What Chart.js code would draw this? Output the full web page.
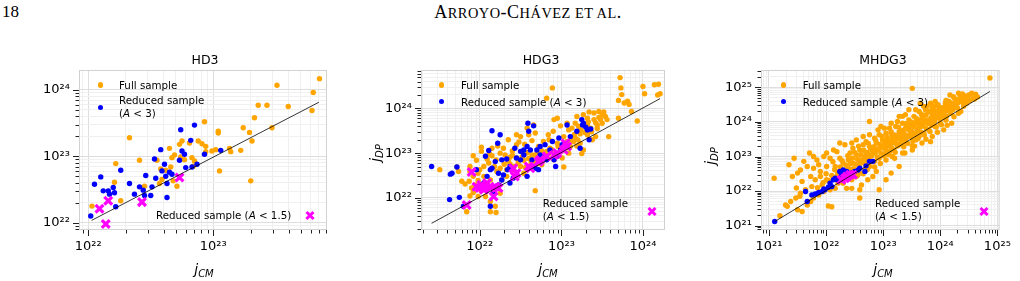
<!DOCTYPE html>
<html>
<head>
<meta charset="utf-8">
<script src="https://cdn.jsdelivr.net/npm/chart.js@4.4.0/dist/chart.umd.min.js"></script>
<style>
  body { margin: 0; background: #fff; }
  #page { position: relative; width: 1020px; height: 281px; overflow: hidden; font-family: 'DejaVu Sans', sans-serif; }
  canvas { position: absolute; left: 0; top: 0; }
  .t { position: absolute; font-size: 10.3px; line-height: 12px; white-space: nowrap; color: #000; }
  .title { position: absolute; font-size: 12.5px; line-height: 14px; transform: translate(-50%, -50%); white-space: nowrap; }
  .ax { position: absolute; font-size: 14px; line-height: 16px; white-space: nowrap; font-style: italic; }
  .ax .sub { font-size: 10px; position: relative; top: 3px; }
  .dot { position: absolute; width: 5.4px; height: 5.4px; border-radius: 50%; margin: -2.7px 0 0 -2.7px; }
  .xm { position: absolute; width: 0; height: 0; }
  .xm::before, .xm::after { content: ''; position: absolute; left: -5px; top: -1.6px; width: 10px; height: 3.2px; background: #ff00ff; }
  .xm::before { transform: rotate(45deg); }
  .xm::after { transform: rotate(-45deg); }
  .head { position: absolute; font-family: 'Liberation Serif', serif; color: #000; white-space: nowrap; }
  .sc { font-size: 0.8em; }
</style>
</head>
<body>
<div id="page">
  <div class="head" style="left:2px; top:2px; font-size:17px;">18</div>
  <div class="head" style="left:528px; top:2px; font-size:18px; letter-spacing:0.5px; transform: translateX(-50%);">A<span class="sc">RROYO</span>-C<span class="sc">HÁVEZ ET AL</span>.</div>

  <canvas id="hd3" width="1020" height="281"></canvas>
  <canvas id="hdg3" width="1020" height="281"></canvas>
  <canvas id="mhdg3" width="1020" height="281"></canvas>

  <!-- titles -->
  <div class="title" style="left:205px; top:60px;">HD3</div>
  <div class="title" style="left:541px; top:60px;">HDG3</div>
  <div class="title" style="left:883px; top:60px;">MHDG3</div>

  <!-- axis labels -->
  <div class="ax" style="left:204px; top:270px; transform: translate(-50%, -50%);">j<span class="sub">CM</span></div>
  <div class="ax" style="left:548px; top:270px; transform: translate(-50%, -50%);">j<span class="sub">CM</span></div>
  <div class="ax" style="left:883px; top:270px; transform: translate(-50%, -50%);">j<span class="sub">CM</span></div>
  <div class="ax" style="left:376px; top:153px; transform: translate(-50%, -50%) rotate(-90deg);">j<span class="sub">DP</span></div>
  <div class="ax" style="left:711px; top:156px; transform: translate(-50%, -50%) rotate(-90deg);">j<span class="sub">DP</span></div>

  <!-- legends HD3 -->
  <div class="dot" style="left:100.5px; top:85px; background:#ffa500;"></div>
  <div class="t" style="left:119px; top:79px;">Full sample</div>
  <div class="dot" style="left:100.5px; top:107.5px; background:#0000ff;"></div>
  <div class="t" style="left:119px; top:94px;">Reduced sample</div>
  <div class="t" style="left:119px; top:107px;">(<i>A</i> &lt; 3)</div>
  <div class="t" style="left:156px; top:209px;">Reduced sample (<i>A</i> &lt; 1.5)</div>
  <div class="xm" style="left:310px; top:215.5px;"></div>

  <!-- legends HDG3 -->
  <div class="dot" style="left:441.7px; top:85px; background:#ffa500;"></div>
  <div class="t" style="left:461px; top:79px;">Full sample</div>
  <div class="dot" style="left:441.7px; top:101.7px; background:#0000ff;"></div>
  <div class="t" style="left:461px; top:95.7px;">Reduced sample (<i>A</i> &lt; 3)</div>
  <div class="t" style="left:542.7px; top:197.3px;">Reduced sample</div>
  <div class="t" style="left:542.7px; top:209.7px;">(<i>A</i> &lt; 1.5)</div>
  <div class="xm" style="left:651.7px; top:211.7px;"></div>

  <!-- legends MHDG3 -->
  <div class="dot" style="left:783.7px; top:85px; background:#ffa500;"></div>
  <div class="t" style="left:802.7px; top:79px;">Full sample</div>
  <div class="dot" style="left:783.7px; top:101.7px; background:#0000ff;"></div>
  <div class="t" style="left:802.7px; top:95.7px;">Reduced sample (<i>A</i> &lt; 3)</div>
  <div class="t" style="left:875px; top:197.3px;">Reduced sample</div>
  <div class="t" style="left:875px; top:209.7px;">(<i>A</i> &lt; 1.5)</div>
  <div class="xm" style="left:983.7px; top:211.7px;"></div>
</div>

<script>
// all values are log10 of j, pairs of [log j_CM, log j_DP]

// HD3
const hd3Full = [[22.03,22.25],[22.22,22.89],[22.21,22.61],[22.26,22.33],[22.33,23.28],[22.41,22.94],[22.45,22.55],[22.55,22.94],[22.58,22.81],[22.59,22.65],[22.62,22.79],[22.65,23.12],[22.66,22.84],[22.68,22.63],[22.67,22.98],[22.69,23.02],[22.71,22.55],[22.73,23.18],[22.75,23.23],[22.74,22.99],[22.77,22.95],[22.81,23.20],[22.83,22.98],[22.85,22.93],[22.84,22.85],[22.88,23.23],[22.91,23.19],[22.93,23.52],[22.94,23.15],[22.94,23.07],[22.99,23.08],[23.02,23.10],[23.04,23.38],[23.04,23.35],[23.05,22.78],[23.13,23.12],[23.14,23.07],[23.22,23.09],[23.24,23.43],[23.29,23.36],[23.30,22.63],[23.31,23.23],[23.33,23.58],[23.36,23.77],[23.43,23.77],[23.47,23.43],[23.51,24.07],[23.60,23.75],[23.79,23.69],[23.80,23.96],[23.85,24.17],[22.57,22.59]];
const hd3Reduced = [[22.02,22.10],[22.05,22.58],[22.10,22.69],[22.12,22.48],[22.16,22.48],[22.17,22.43],[22.20,22.53],[22.21,22.45],[22.22,22.24],[22.26,22.79],[22.33,22.59],[22.37,22.43],[22.41,22.54],[22.44,22.49],[22.45,22.41],[22.46,22.71],[22.50,22.41],[22.51,22.54],[22.53,22.96],[22.54,22.67],[22.58,23.10],[22.59,22.78],[22.61,22.88],[22.62,22.70],[22.63,22.59],[22.63,22.38],[22.65,22.76],[22.67,22.73],[22.73,22.94],[22.74,23.40],[22.75,23.08],[22.77,23.03],[22.78,22.83],[22.82,23.24],[22.83,22.84],[22.85,23.47],[22.87,22.88],[22.93,23.03],[23.06,23.09]];
const hd3Low = [[22.09,22.21],[22.16,22.33],[22.14,21.98],[22.43,22.31],[22.73,22.68]];
const hd3Fit = [[22.027,22.035],[23.845,23.814]];
const hd3RangeX = [21.926, 23.91];
const hd3RangeY = [21.89, 24.30];

// HDG3
const hdg3Full = [[23.72,24.69],[23.73,24.46],[23.74,24.31],[23.70,24.18],[23.77,24.12],[23.81,24.16],[23.83,24.09],[23.93,23.72],[23.70,23.78],[23.86,23.93],[24.00,24.49],[24.02,24.33],[24.14,24.53],[24.19,24.54],[24.18,24.30],[24.21,24.33],[23.58,23.37],[22.89,24.46],[22.82,24.23],
  [23.27,23.86],[23.34,23.92],[23.40,23.90],[23.46,23.93],[23.52,23.92],[23.54,23.82],[23.50,23.67],[23.56,23.75],[23.40,23.75],[23.32,23.63],[23.19,23.82],[23.17,23.67],[23.07,23.67],[23.09,23.52],[22.99,23.61],[22.95,23.78],[22.91,23.75],[22.90,23.49],[23.03,23.37],[23.17,23.34],[23.23,23.43],[23.32,23.41],[23.38,23.30],[23.42,23.37],[23.11,23.15],[23.19,23.16],[23.15,23.26],[23.23,23.22],[23.27,23.07],[23.07,23.26],[22.99,23.11],[22.95,23.22],[22.86,23.11],[22.82,23.04],[22.93,23.00],
  [22.66,23.63],[22.68,23.45],[22.58,23.56],[22.60,23.41],[22.64,23.28],[22.50,23.37],[22.45,23.41],[22.35,23.30],[22.45,23.19],[22.29,23.11],[22.22,23.16],[22.15,23.11],[22.02,23.13],[22.02,23.04],[21.92,22.94],[21.96,22.84],[22.09,22.87],[22.11,22.78],[22.15,22.94],[22.25,23.00],[22.31,22.96],[22.37,22.91],[22.45,22.89],[22.54,22.84],[22.58,23.01],[22.70,23.00],[22.74,22.87],[22.82,22.91],[22.50,22.70],[22.41,22.63],[22.33,22.63],[22.25,22.66],[22.18,22.70],[21.88,22.70],[21.51,22.63],[21.72,22.69],[21.74,22.59],[21.88,22.59],[21.92,22.48],[21.87,22.37],[21.90,22.22],[21.94,22.29],[21.98,22.39],[22.05,22.48],[22.13,22.40],[22.21,22.59],[22.27,22.40],[22.33,22.48],[21.88,22.04],[21.92,22.12],[22.13,21.92],[21.84,21.69],[22.13,21.69],[22.20,21.67],[22.68,22.16],[23.03,22.69],[22.54,22.55],[22.62,22.70],[22.70,22.76],[22.76,22.74],[22.91,22.85],[23.25,22.99],[22.25,22.10],[22.09,22.29],[22.02,22.16],[21.98,22.03],[22.00,22.63],[22.37,22.76],[21.78,22.37],[21.82,22.31],[22.07,22.03],[22.19,21.81],
  [23.13,23.56],[23.21,23.60],[23.36,23.56],[23.44,23.63],[23.48,23.75],[23.32,23.78],[22.84,23.41],[22.78,23.26],[22.72,23.15],[22.64,22.96],[22.52,23.04],[23.01,22.89],[23.09,23.00],
  [22.30,22.75],[22.35,22.82],[22.40,22.95],[22.42,22.70],[22.47,22.78],[22.52,22.92],[22.56,22.68],[22.60,22.88],[22.63,22.78],[22.66,22.95],[22.68,22.82],[22.72,22.90],[22.76,23.05],[22.79,22.95],[22.84,22.98],[22.88,23.08],[22.92,22.95],[22.96,23.15],[23.00,23.05],[23.04,23.20],[23.08,23.12],[23.12,23.30],[23.16,23.42],[23.20,23.30],[23.24,23.52],[23.29,23.46],[23.33,23.70],[23.37,23.48],[23.42,23.68],[23.46,23.80],[23.50,23.85],[23.44,23.55],[22.55,23.20],[22.48,23.25],[22.40,23.05],[22.20,22.85],[22.12,22.98],[22.05,22.70],[21.98,22.55],[22.85,23.30]];
const hdg3Reduced = [[21.41,22.70],[21.64,22.53],[21.66,22.55],[21.72,22.69],[21.63,21.96],[21.75,22.01],[21.80,21.81],[22.13,21.81],[22.15,23.50],[22.25,23.41],[22.22,23.22],[22.11,23.06],[22.07,22.93],[22.13,22.63],[22.15,22.66],[22.23,22.55],[22.27,22.40],[22.29,22.51],[22.34,22.63],[22.37,22.70],[22.43,23.11],[22.50,23.04],[22.54,23.07],[22.58,23.15],[22.59,23.67],[22.60,23.49],[22.66,23.61],[22.62,23.07],[22.70,23.07],[22.74,23.15],[22.80,23.19],[22.86,23.07],[22.82,22.85],[22.93,22.70],[22.91,22.85],[22.50,22.85],[22.54,22.96],[22.64,22.85],[22.68,22.66],[22.58,22.48],[22.41,22.44],[22.37,22.33],[22.23,22.29],[22.17,22.14],[22.05,22.33],[22.09,22.48],[21.96,22.63],[22.76,22.93],[23.07,23.63],[23.25,23.75],[23.27,23.67],[23.32,23.52],[23.36,23.54],[23.34,23.30],[23.19,23.49],[23.11,23.37],[23.23,23.11],[22.74,22.96],[22.99,23.07],[23.01,23.19],[22.89,23.26],[22.97,23.34],[22.95,22.93],[22.19,22.81],[22.27,22.85],[22.45,22.89],[22.33,22.87],[22.66,22.70],[22.72,22.63],[22.11,22.22],[22.00,22.22],[23.26,23.63],[23.30,23.58]];
const hdg3Low = [[21.90,22.58],[21.84,21.84],[22.02,22.29],[22.07,22.25],[22.05,22.18],[22.00,22.22],[22.09,22.33],[22.19,22.25],[22.17,22.03],[22.23,22.22],[22.41,22.66],[22.43,22.48],[22.45,22.55],[22.60,22.70],[22.62,22.66],[22.72,22.81],[22.74,22.85],[22.82,22.93],[22.91,22.96],[22.95,23.00],[23.03,23.07],[23.05,23.22],[23.07,23.15],[21.96,22.25],[22.13,22.22]];
const hdg3Fit = [[21.41,21.43],[24.21,24.22]];
const hdg3RangeX = [21.28, 24.27];
const hdg3RangeY = [21.28, 24.86];

// MHDG3
const mhdg3Full = [[21.09,22.37],[21.19,21.29],[24.87,25.27],[23.51,24.97],[22.76,24.01],[23.83,23.43],[23.51,23.31],[21.71,23.10],[21.44,22.95],[21.61,22.86],[21.41,22.42],[22.04,21.57],[22.10,21.55],[22.59,21.80],[22.59,22.04],[22.93,22.04],[23.05,22.33],[21.29,21.60],[21.32,21.56],[21.38,21.70],[21.50,21.46],[21.58,21.41],[21.47,21.80],[21.55,21.94],[21.64,22.04],[21.58,22.28],[21.73,22.42],[21.81,22.33],[21.90,22.57],[22.01,22.71],[21.87,22.76],[21.78,22.66],
  [22.07,22.95],[22.19,23.14],[22.24,22.95],[22.30,22.81],[22.39,22.90],[22.42,23.10],[22.47,23.24],[22.53,23.05],[22.59,23.19],[22.65,23.34],[22.70,23.43],[22.76,23.29],[22.85,23.53],[22.88,23.39],[22.93,23.63],[22.99,23.48],[23.05,23.67],[23.11,23.82],[23.16,23.58],[23.22,23.87],[23.28,23.72],[23.34,23.96],[23.39,23.82],[23.45,24.06],[23.48,23.92],[23.54,24.16],[23.57,23.96],[23.63,24.30],[23.68,24.11],[23.74,24.35],[23.77,24.45],[23.83,24.54],[23.86,24.25],[23.91,24.59],[23.97,24.45],[24.03,24.30],[24.09,24.54],[24.11,24.16],[24.17,24.78],[24.23,24.73],[24.29,24.64],[24.32,24.83],[24.39,24.81],[24.43,24.75],[24.46,24.54],[24.55,24.83],[24.58,24.69],[24.60,24.66],
  [23.97,24.11],[24.00,23.96],[23.91,23.87],[23.80,23.77],[23.71,23.67],[23.63,23.58],[23.57,23.48],[23.48,23.58],[23.39,23.43],[23.28,23.34],[23.19,23.19],[23.11,23.14],[23.02,23.05],[22.93,22.95],[22.85,22.86],[22.76,22.71],[22.68,22.61],[22.59,22.52],[22.53,22.42],[22.45,22.33],[22.36,22.47],[22.30,22.23],[22.21,22.23],[22.16,22.08],[22.07,22.04],[21.96,21.99],[21.87,21.89],[21.78,21.80],[21.73,21.70],[21.67,21.60],[23.14,22.52],[23.28,22.71],[22.88,22.57],[22.73,22.33],[22.62,22.18],[22.45,22.08],[22.82,22.42],[22.36,22.08],[22.30,22.42],[22.19,22.42],[22.01,22.33],
  [23.16,23.00],[23.34,23.10],[23.51,23.19],[23.68,23.39],[23.86,23.58],[24.06,23.77],[24.20,23.96],[24.32,24.25],[24.41,24.45],[23.57,24.35],[23.45,24.35],[23.34,24.16],[23.25,24.01],[23.14,23.96],[23.02,23.82],[22.96,23.87],[22.91,23.77],[22.76,23.63],[22.65,23.58],[22.53,23.48],[22.45,23.39],[22.33,23.34],[22.24,23.39],[22.13,23.19],[22.01,23.10],[21.96,23.00],[21.84,22.90],[21.78,23.00],[21.67,22.71],[21.55,22.61],[21.50,22.52],[21.35,22.76],[21.48,22.09],[21.54,21.85],
  [23.63,24.01],[23.80,24.06],[23.88,24.11],[23.71,24.45],[23.65,24.54],[23.86,24.40],[24.06,24.35],[24.14,24.49],[23.39,24.21],[23.28,24.16],[23.14,23.67],[23.05,23.43],[22.88,23.19],[22.70,23.05],[22.59,22.90],[22.47,22.81],[22.39,22.66],[21.90,22.42],[22.27,22.61],[22.16,22.71],[21.93,22.18],[21.75,22.13],
  [22.20,22.55],[22.25,22.70],[22.28,22.88],[22.32,22.60],[22.35,22.75],[22.38,23.02],[22.40,22.55],[22.43,22.80],[22.46,22.95],[22.48,22.65],[22.50,23.12],[22.52,22.78],[22.55,22.92],[22.57,23.30],[22.58,22.70],[22.61,23.05],[22.63,22.85],[22.66,23.18],[22.67,22.98],[22.69,22.78],[22.72,23.12],[22.74,23.38],[22.75,22.92],[22.78,23.22],[22.80,23.02],[22.81,22.85],[22.84,23.28],[22.86,23.10],[22.87,23.46],[22.90,22.98],[22.92,23.22],[22.94,23.35],[22.96,23.10],[22.98,23.58],[23.00,23.25],[23.01,23.02],[23.03,23.40],[23.05,23.18],[23.07,23.55],[23.09,23.30],[23.10,23.05],[23.12,23.45],[23.14,23.72],[23.15,23.25],[23.18,23.40],[23.20,23.62],[23.21,23.12],[23.23,23.50],[23.25,23.30],[23.27,23.85],[23.29,23.62],[23.30,23.38],[23.32,23.75],[23.34,23.52],[23.36,23.28],[23.37,23.65],[23.40,23.95],[23.41,23.55],[23.43,23.38],[23.44,23.78],[23.46,23.62],[23.49,24.00],[23.50,23.72],[23.52,23.45],[23.54,23.85],[23.55,23.62],[23.58,24.10],[23.60,23.80],[23.61,23.52],[23.64,23.92],[23.66,23.70],[23.67,24.22],[23.70,23.88],[23.72,23.62],[23.73,24.05],[23.76,23.80],[23.78,24.28],[23.79,23.95],[23.82,23.72],[23.84,24.12],[23.85,23.90],[23.88,24.35],[23.90,24.02],[23.93,23.85],[23.95,24.22],[23.98,24.38],[24.00,24.10],[24.02,23.92],[24.05,24.42],[24.07,24.20],[24.10,24.05],[24.12,24.32],[24.15,24.60],[24.18,24.25],[24.21,24.45],[24.24,24.15],[24.26,24.55],[24.30,24.40],[24.33,24.65],[24.36,24.30],[24.38,24.58],[24.42,24.65],[24.48,24.70],[24.52,24.62],[24.35,24.72],[24.25,24.68],[22.10,22.45],[22.15,22.62],[22.05,22.30],[22.00,22.50],[21.95,22.25],[21.85,22.10],[22.12,22.85],[22.22,22.32],[22.55,22.45],[22.65,22.50],[22.72,22.62],[22.85,22.70],[22.95,22.80],[23.05,22.90],[23.20,22.95],[23.38,23.10],[23.55,23.30],[23.75,23.50],[23.95,23.70],[24.12,23.90],
  [22.45,22.62],[22.52,22.60],[22.60,22.80],[22.68,22.90],[22.75,23.05],[22.82,23.15],[22.89,23.20],[22.97,23.30],[23.02,23.28],[23.08,23.42],[23.13,23.35],[23.17,23.50],[23.22,23.38],[23.26,23.60],[23.31,23.48],[23.35,23.70],[23.38,23.58],[23.42,23.85],[23.47,23.75],[23.51,23.88],[23.53,23.65],[23.56,23.98],[23.59,23.72],[23.62,24.05],[23.65,23.85],[23.69,24.15],[23.71,23.98],[23.75,24.20],[23.77,24.05],[23.81,24.30],[23.83,24.00],[23.87,24.20],[23.89,24.45],[23.92,24.12],[23.94,24.30],[23.96,24.50],[23.99,24.25],[24.01,24.40],[24.04,24.15],[24.08,24.35],[24.10,24.62],[24.13,24.45],[24.16,24.35],[24.19,24.55],[24.22,24.35],[24.27,24.45],[24.31,24.55],[24.40,24.55],[24.45,24.68],[24.50,24.78],[24.62,24.80],[24.65,24.72]];
const mhdg3Reduced = [[21.10,21.12],[21.67,21.70],[21.75,21.89],[21.81,21.92],[21.87,21.96],[21.93,21.99],[21.98,22.04],[22.04,22.11],[21.64,21.99],[22.07,22.23],[22.13,22.33],[22.16,22.37],[22.24,22.57],[22.27,22.47],[22.33,22.42],[22.36,22.57],[22.45,22.52],[22.50,22.57],[22.56,22.61],[22.59,22.66],[22.68,22.57],[22.70,22.73],[22.76,22.86],[22.82,22.86],[22.30,22.61],[22.10,22.13],[21.96,22.06],[22.19,22.33]];
const mhdg3Low = [[22.27,22.33],[22.33,22.37],[22.42,22.47],[22.47,22.47],[22.37,22.42]];
const mhdg3Fit = [[21.10,21.12],[24.87,24.88]];
const mhdg3RangeX = [20.86, 25.04];
const mhdg3RangeY = [20.876, 25.50];

const FONT = 'DejaVu Sans';
const SUP = {'0':'⁰','1':'¹','2':'²','3':'³','4':'⁴','5':'⁵','6':'⁶','7':'⁷','8':'⁸','9':'⁹','-':'⁻'};

function toPoints(pairs) {
    return pairs.map(p => ({ x: Math.pow(10, p[0]), y: Math.pow(10, p[1]) }));
}

function isDecade(v) {
    const e = Math.log10(v);
    return Math.abs(e - Math.round(e)) < 1e-6;
}

// ticks at 1..9 x 10^n, like matplotlib's minor locator
function fillLogTicks(scale) {
    const ticks = [];
    const lo = Math.floor(Math.log10(scale.min));
    const hi = Math.ceil(Math.log10(scale.max));
    for (let e = lo; e <= hi; e++) {
        for (let k = 1; k < 10; k++) {
            const v = k * Math.pow(10, e);
            if (v >= scale.min && v <= scale.max) ticks.push({ value: v, major: k === 1 });
        }
    }
    scale.ticks = ticks;
}

function tickLabel(v) {
    if (!isDecade(v)) return '';
    const e = Math.round(Math.log10(v));
    return '10' + String(e).split('').map(c => SUP[c]).join('');
}

// light frame under the points, black tick marks outside
const frameTicks = {
    id: 'frameTicks',
    beforeDatasetsDraw(chart) {
        const ctx = chart.ctx, a = chart.chartArea;
        ctx.save();
        ctx.strokeStyle = '#d2d2d2';
        ctx.lineWidth = 1;
        ctx.strokeRect(a.left + 0.5, a.top + 0.5, a.right - a.left - 1, a.bottom - a.top - 1);
        ctx.restore();
    },
    afterDraw(chart) {
        const ctx = chart.ctx, a = chart.chartArea;
        const sx = chart.scales.x, sy = chart.scales.y;
        ctx.save();
        ctx.strokeStyle = '#222';
        ctx.lineWidth = 1;
        ctx.beginPath();
        sx.ticks.forEach(t => {
            const px = Math.round(sx.getPixelForValue(t.value)) + 0.5;
            const len = isDecade(t.value) ? 6 : 3.5;
            ctx.moveTo(px, a.bottom);
            ctx.lineTo(px, a.bottom + len);
        });
        sy.ticks.forEach(t => {
            const py = Math.round(sy.getPixelForValue(t.value)) + 0.5;
            const len = isDecade(t.value) ? 6 : 3.5;
            ctx.moveTo(a.left, py);
            ctx.lineTo(a.left - len, py);
        });
        ctx.stroke();
        ctx.restore();
    }
};

function axis(range, horizontal) {
    return {
        type: 'logarithmic',
        min: Math.pow(10, range[0]),
        max: Math.pow(10, range[1]),
        afterBuildTicks: fillLogTicks,
        afterFit: horizontal ? (s => { s.height = 40; }) : (s => { s.width = 45; }),
        grid: {
            color: c => (c.tick && isDecade(c.tick.value)) ? '#dedede' : '#f0f0f0',
            lineWidth: 1,
            drawTicks: false
        },
        border: { display: false },
        ticks: {
            autoSkip: false,
            maxRotation: 0,
            padding: 9,
            color: '#000',
            font: { family: FONT, size: 13 },
            callback: tickLabel
        }
    };
}

function makePanel(id, box, rangeX, rangeY, full, reduced, low, fit) {
    new Chart(document.getElementById(id), {
        type: 'scatter',
        data: {
            datasets: [
                { data: toPoints(fit), showLine: true, borderColor: '#000', borderWidth: 0.8, pointRadius: 0 },
                { data: toPoints(low), pointStyle: 'crossRot', pointRadius: 5.5, pointBorderWidth: 3.2, borderColor: '#ff00ff', backgroundColor: '#ff00ff' },
                { data: toPoints(reduced), pointRadius: 2.7, pointBorderWidth: 0, backgroundColor: '#0000ff', borderColor: '#0000ff' },
                { data: toPoints(full), pointRadius: 2.7, pointBorderWidth: 0, backgroundColor: '#ffa500', borderColor: '#ffa500' }
            ]
        },
        options: {
            responsive: false,
            animation: false,
            events: [],
            layout: {
                padding: { left: box.l - 45, right: 1020 - box.r, top: box.t, bottom: 281 - box.b - 40 }
            },
            scales: {
                x: axis(rangeX, true),
                y: axis(rangeY, false)
            },
            plugins: {
                legend: { display: false },
                tooltip: { enabled: false }
            }
        },
        plugins: [frameTicks]
    });
}

makePanel('hd3', { l: 79, r: 327, t: 70, b: 230 }, hd3RangeX, hd3RangeY, hd3Full, hd3Reduced, hd3Low, hd3Fit);
makePanel('hdg3', { l: 421, r: 665, t: 70, b: 230 }, hdg3RangeX, hdg3RangeY, hdg3Full, hdg3Reduced, hdg3Low, hdg3Fit);
makePanel('mhdg3', { l: 761, r: 1003, t: 70, b: 230 }, mhdg3RangeX, mhdg3RangeY, mhdg3Full, mhdg3Reduced, mhdg3Low, mhdg3Fit);
</script>
</body>
</html>
